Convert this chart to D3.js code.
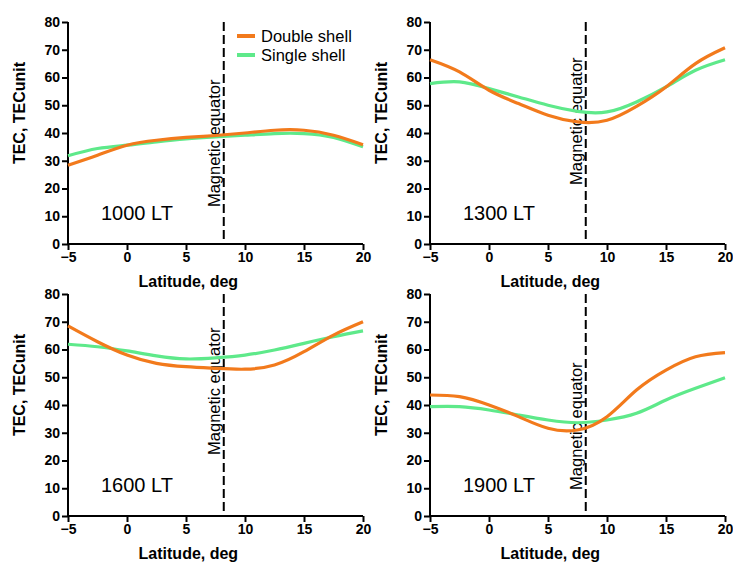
<!DOCTYPE html>
<html><head><meta charset="utf-8">
<script src="https://cdn.jsdelivr.net/npm/d3@7"></script>
<style>body{margin:0;background:#fff}svg{display:block}text{font-family:"Liberation Sans",Arial,sans-serif}</style>
</head><body><svg id="c" width="733" height="563"></svg>
<script>
const latitudes = [-5, -2.5, 0, 2.5, 5, 7.5, 10, 12.5, 15, 17.5, 20];
const panelLabels = ["1000 LT", "1300 LT", "1600 LT", "1900 LT"];
const doubleShell = [
  [28.4, 32.0, 35.6, 37.4, 38.4, 39.1, 40.0, 41.0, 41.0, 39.2, 35.8],
  [66.4, 62.0, 55.4, 50.6, 46.4, 44.0, 44.6, 49.6, 56.6, 65.0, 70.7],
  [68.5, 62.8, 58.0, 55.0, 53.8, 53.2, 52.9, 54.4, 59.2, 65.2, 70.0],
  [43.6, 43.0, 40.0, 35.8, 31.6, 31.0, 35.8, 45.4, 52.6, 57.4, 58.9]
];
const singleShell = [
  [31.8, 34.4, 35.6, 36.8, 37.9, 38.6, 39.2, 39.8, 39.8, 38.4, 35.0],
  [57.8, 58.4, 56.0, 53.0, 50.0, 47.8, 47.6, 51.2, 56.6, 62.6, 66.4],
  [61.9, 61.0, 59.5, 57.7, 56.6, 57.0, 58.0, 59.8, 62.2, 64.6, 66.7],
  [39.4, 39.4, 38.2, 36.4, 34.6, 33.6, 34.6, 37.0, 41.8, 46.0, 49.8]
];
const equatorLat = 8.2;
const equatorLabelBottom = [13.3, 21.3, 22.0, 9.4];
const xTicks = [-5, 0, 5, 10, 15, 20];
const yTicks = [0, 10, 20, 30, 40, 50, 60, 70, 80];
const seriesNames = ["Double shell", "Single shell"];
const colors = ["#f27a1c", "#5ee98a"];

const svg = d3.select("#c");
const lefts = [68, 430], tops = [22, 294];
const W = 295, H = 222;

panelLabels.forEach((lab, i) => {
  const ox = lefts[i % 2], oy = tops[Math.floor(i / 2)];
  const g = svg.append("g").attr("transform", `translate(${ox},${oy})`);
  const x = d3.scaleLinear().domain([-5, 20]).range([0, W]);
  const y = d3.scaleLinear().domain([0, 80]).range([H, 0]);

  const xa = g.append("g").attr("transform", `translate(0,${H})`)
    .call(d3.axisBottom(x).tickValues(xTicks).tickSize(6).tickPadding(2).tickFormat(d3.format("d")));
  const ya = g.append("g")
    .call(d3.axisLeft(y).tickValues(yTicks).tickSize(6).tickPadding(2));
  [xa, ya].forEach(a => {
    a.select(".domain").attr("stroke", "#000").attr("stroke-width", 2);
    a.selectAll(".tick line").attr("stroke", "#000").attr("stroke-width", 2);
    a.selectAll("text").attr("fill", "#000").attr("font-size", 14).attr("font-weight", "bold");
  });
  xa.select(".domain").attr("d", `M0,0H${W}`);
  ya.select(".domain").attr("d", `M0,${H}V0`);

  g.append("text").attr("x", x(5.2)).attr("y", H + 43).attr("text-anchor", "middle")
    .attr("font-size", 16).attr("font-weight", "bold").text("Latitude, deg");
  g.append("text").attr("transform", `translate(-43,${H / 2 - 20}) rotate(-90)`)
    .attr("text-anchor", "middle").attr("font-size", 16).attr("font-weight", "bold").text("TEC, TECunit");

  g.append("line").attr("x1", x(equatorLat)).attr("x2", x(equatorLat)).attr("y1", y(80)).attr("y2", y(0))
    .attr("stroke", "#000").attr("stroke-width", 2).attr("stroke-dasharray", "9,4");
  g.append("text").attr("transform", `translate(${x(equatorLat) - 4},${y(equatorLabelBottom[i])}) rotate(-90)`)
    .attr("font-size", 16.5).attr("fill", "#000").text("Magnetic equator");

  g.append("text").attr("x", 33).attr("y", H - 24).attr("font-size", 20).attr("fill", "#000").text(lab);

  const line = d3.line().x((d, k) => x(latitudes[k])).y(d => y(d)).curve(d3.curveNatural);
  [singleShell[i], doubleShell[i]].forEach((vals, s) => {
    g.append("path").datum(vals).attr("d", line).attr("fill", "none")
      .attr("stroke", colors[1 - s]).attr("stroke-width", 3.2);
  });

  if (i === 0) {
    seriesNames.forEach((n, s) => {
      const ly = 14 + s * 19;
      g.append("line").attr("x1", 169).attr("x2", 187).attr("y1", ly).attr("y2", ly)
        .attr("stroke", colors[s]).attr("stroke-width", 4);
      g.append("text").attr("x", 193).attr("y", ly + 6).attr("font-size", 16.5).attr("fill", "#000").text(n);
    });
  }
});
</script></body></html>
